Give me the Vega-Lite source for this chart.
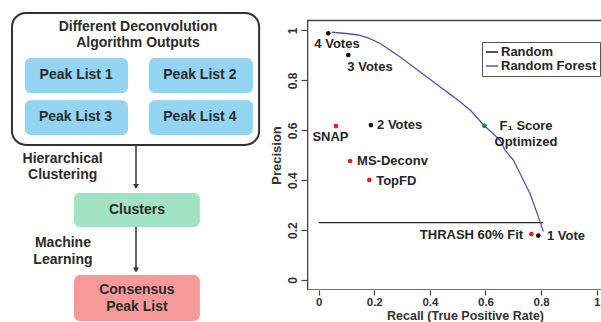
{
  "$schema": "https://vega.github.io/schema/vega-lite/v6.json",
  "padding": 0,
  "autosize": {"type": "pad"},
  "spacing": 0,
  "bounds": "flush",
  "background": "white",
  "config": {
    "view": {"stroke": null},
    "font": "Liberation Sans"
  },
  "resolve": {
    "scale": {"x": "independent", "y": "independent", "color": "independent", "fill": "independent", "stroke": "independent"},
    "legend": {"stroke": "independent", "color": "independent", "fill": "independent"}
  },
  "datasets": {
    "outer": [{"x": 3.9, "x2": 84.4, "y": 4.0, "y2": 45.0}],
    "boxes": [
      {"name": "Peak List 1", "kind": "input", "x": 8.1, "x2": 41.7, "y": 18.0, "y2": 28.9},
      {"name": "Peak List 2", "kind": "input", "x": 48.5, "x2": 82.4, "y": 18.0, "y2": 28.9},
      {"name": "Peak List 3", "kind": "input", "x": 8.1, "x2": 41.7, "y": 31.1, "y2": 41.9},
      {"name": "Peak List 4", "kind": "input", "x": 48.5, "x2": 82.4, "y": 31.1, "y2": 41.9},
      {"name": "Clusters", "kind": "cluster", "x": 24.1, "x2": 65.1, "y": 59.9, "y2": 70.5},
      {"name": "Consensus Peak List", "kind": "consensus", "x": 24.1, "x2": 65.1, "y": 85.4, "y2": 99.7}
    ],
    "arrows": [
      {"step": "Hierarchical Clustering", "x": 44.3, "y": 45.0, "y2": 58.0, "tip": 57.9},
      {"step": "Machine Learning", "x": 44.3, "y": 70.5, "y2": 84.0, "tip": 83.85}
    ],
    "diagramText": [
      {"text": "Different Deconvolution", "x": 44.95, "y": 8.39},
      {"text": "Algorithm  Outputs", "x": 44.95, "y": 13.35},
      {"text": "Peak List 1", "x": 24.8, "y": 23.35},
      {"text": "Peak List 2", "x": 65.1, "y": 23.35},
      {"text": "Peak List 3", "x": 24.6, "y": 36.3},
      {"text": "Peak List 4", "x": 65.1, "y": 36.3},
      {"text": "Hierarchical", "x": 20.4, "y": 49.4},
      {"text": "Clustering", "x": 20.4, "y": 54.3},
      {"text": "Clusters", "x": 44.6, "y": 65.2},
      {"text": "Machine", "x": 20.5, "y": 75.5},
      {"text": "Learning", "x": 20.5, "y": 80.7},
      {"text": "Consensus", "x": 44.6, "y": 90.1},
      {"text": "Peak List", "x": 44.6, "y": 95.3}
    ],
    "frame": [{"recall": -0.04, "recall2": 1.04, "precision": -0.04, "precision2": 1.04}],
    "curves": [
      {"series": "Random", "recall": 0.0, "precision": 0.23},
      {"series": "Random", "recall": 0.808, "precision": 0.23},
      {"series": "Random Forest", "recall": 0.047, "precision": 0.993},
      {"series": "Random Forest", "recall": 0.1, "precision": 0.988},
      {"series": "Random Forest", "recall": 0.142, "precision": 0.982},
      {"series": "Random Forest", "recall": 0.178, "precision": 0.97},
      {"series": "Random Forest", "recall": 0.22, "precision": 0.949},
      {"series": "Random Forest", "recall": 0.292, "precision": 0.895},
      {"series": "Random Forest", "recall": 0.388, "precision": 0.815},
      {"series": "Random Forest", "recall": 0.484, "precision": 0.735},
      {"series": "Random Forest", "recall": 0.544, "precision": 0.682},
      {"series": "Random Forest", "recall": 0.596, "precision": 0.618},
      {"series": "Random Forest", "recall": 0.652, "precision": 0.561},
      {"series": "Random Forest", "recall": 0.67, "precision": 0.521},
      {"series": "Random Forest", "recall": 0.7, "precision": 0.481},
      {"series": "Random Forest", "recall": 0.718, "precision": 0.441},
      {"series": "Random Forest", "recall": 0.76, "precision": 0.347},
      {"series": "Random Forest", "recall": 0.79, "precision": 0.254},
      {"series": "Random Forest", "recall": 0.808, "precision": 0.194}
    ],
    "methods": [
      {"label": "4 Votes", "kind": "vote", "recall": 0.0345, "precision": 0.9888, "lx": 0.0658, "ly": 0.9447},
      {"label": "3 Votes", "kind": "vote", "recall": 0.1065, "precision": 0.9018, "lx": 0.1845, "ly": 0.8537},
      {"label": "2 Votes", "kind": "vote", "recall": 0.188, "precision": 0.621, "lx": 0.2914, "ly": 0.6212},
      {"label": "1 Vote", "kind": "vote", "recall": 0.79, "precision": 0.178, "lx": 0.8896, "ly": 0.1776},
      {"label": "SNAP", "kind": "tool", "recall": 0.062, "precision": 0.617, "lx": 0.0424, "ly": 0.5743},
      {"label": "MS-Deconv", "kind": "tool", "recall": 0.113, "precision": 0.477, "lx": 0.2655, "ly": 0.477},
      {"label": "TopFD", "kind": "tool", "recall": 0.182, "precision": 0.401, "lx": 0.2791, "ly": 0.3968},
      {"label": "THRASH 60% Fit", "kind": "tool", "recall": 0.765, "precision": 0.184, "lx": 0.5496, "ly": 0.18},
      {"label": "F₁ Score\nOptimized", "kind": "f1", "recall": 0.596, "precision": 0.618, "lx": 0.7457, "ly": 0.617}
    ]
  },
  "hconcat": [
    {
      "width": 307,
      "height": 322,
      "layer": [
        {
          "data": {"name": "outer"},
          "mark": {"type": "rect", "cornerRadius": 14, "fill": "white", "stroke": "#333333", "strokeWidth": 2},
          "encoding": {
            "x": {"field": "x", "type": "quantitative", "scale": {"domain": [0, 100], "nice": false, "zero": false}, "axis": null},
            "x2": {"field": "x2"},
            "y": {"field": "y", "type": "quantitative", "scale": {"domain": [0, 100], "nice": false, "zero": false, "reverse": true}, "axis": null},
            "y2": {"field": "y2"}
          }
        },
        {
          "data": {"name": "boxes"},
          "mark": {"type": "rect", "cornerRadius": 6},
          "encoding": {
            "x": {"field": "x", "type": "quantitative", "scale": {"domain": [0, 100], "nice": false, "zero": false}, "axis": null},
            "x2": {"field": "x2"},
            "y": {"field": "y", "type": "quantitative", "scale": {"domain": [0, 100], "nice": false, "zero": false, "reverse": true}, "axis": null},
            "y2": {"field": "y2"},
            "fill": {"field": "kind", "type": "nominal", "scale": {"domain": ["input", "cluster", "consensus"], "range": ["#92d4f1", "#a0e2c3", "#f59a98"]}, "legend": null}
          }
        },
        {
          "data": {"name": "arrows"},
          "mark": {"type": "rule", "color": "#333333", "strokeWidth": 1.5},
          "encoding": {
            "x": {"field": "x", "type": "quantitative", "scale": {"domain": [0, 100], "nice": false, "zero": false}, "axis": null},
            "y": {"field": "y", "type": "quantitative", "scale": {"domain": [0, 100], "nice": false, "zero": false, "reverse": true}, "axis": null},
            "y2": {"field": "y2"}
          }
        },
        {
          "data": {"name": "arrows"},
          "mark": {"type": "point", "shape": "triangle-down", "filled": true, "color": "#333333", "size": 35, "opacity": 1},
          "encoding": {
            "x": {"field": "x", "type": "quantitative", "scale": {"domain": [0, 100], "nice": false, "zero": false}, "axis": null},
            "y": {"field": "tip", "type": "quantitative", "scale": {"domain": [0, 100], "nice": false, "zero": false, "reverse": true}, "axis": null}
          }
        },
        {
          "data": {"name": "diagramText"},
          "mark": {"type": "text", "font": "Liberation Sans", "fontWeight": "bold", "fontSize": 14, "color": "#2b2b2b", "align": "center", "baseline": "middle"},
          "encoding": {
            "x": {"field": "x", "type": "quantitative", "scale": {"domain": [0, 100], "nice": false, "zero": false}, "axis": null},
            "y": {"field": "y", "type": "quantitative", "scale": {"domain": [0, 100], "nice": false, "zero": false, "reverse": true}, "axis": null},
            "text": {"field": "text", "type": "nominal"}
          }
        }
      ]
    },
    {
      "width": 294,
      "height": 290,
      "layer": [
        {
          "data": {"name": "frame"},
          "mark": {"type": "rect", "clip": true, "fill": "white", "fillOpacity": 0, "stroke": "#444444", "strokeWidth": 1.5},
          "encoding": {
            "x": {
              "field": "recall", "type": "quantitative",
              "scale": {"domain": [-0.042, 1.0155], "nice": false, "zero": false},
              "axis": {
                "values": [0, 0.2, 0.4, 0.6, 0.8, 1], "format": "~g", "grid": false, "domain": false,
                "tickSize": 5, "tickColor": "#444444", "tickWidth": 1.2,
                "labelFont": "Liberation Sans", "labelFontSize": 11.5, "labelFontWeight": "bold", "labelColor": "#333333",
                "labelPadding": 1, "labelFlush": false, "labelOverlap": false,
                "title": "Recall (True Positive Rate)", "titleFont": "Liberation Sans", "titleFontSize": 12.5,
                "titleFontWeight": "bold", "titleColor": "#333333", "titlePadding": 1.5, "titleX": 158
              }
            },
            "x2": {"field": "recall2"},
            "y": {
              "field": "precision", "type": "quantitative",
              "scale": {"domain": [-0.0401, 1.1222], "nice": false, "zero": false},
              "axis": {
                "values": [0, 0.2, 0.4, 0.6, 0.8, 1], "format": "~g", "grid": false, "domain": false,
                "tickSize": 6, "tickColor": "#444444", "tickWidth": 1.2,
                "labelFont": "Liberation Sans", "labelFontSize": 12, "labelFontWeight": "bold", "labelColor": "#333333",
                "labelAngle": -90, "labelAlign": "center", "labelBaseline": "bottom", "labelPadding": 2, "labelOverlap": false,
                "title": "Precision", "titleFont": "Liberation Sans", "titleFontSize": 13,
                "titleFontWeight": "bold", "titleColor": "#333333", "titlePadding": 3, "titleY": 155
              }
            },
            "y2": {"field": "precision2"}
          }
        },
        {
          "data": {"name": "curves"},
          "mark": {"type": "line", "strokeWidth": 1.3},
          "encoding": {
            "x": {"field": "recall", "type": "quantitative", "scale": {"domain": [-0.042, 1.0155], "nice": false, "zero": false}, "title": "Recall (True Positive Rate)"},
            "y": {"field": "precision", "type": "quantitative", "scale": {"domain": [-0.0401, 1.1222], "nice": false, "zero": false}, "title": "Precision"},
            "stroke": {
              "field": "series", "type": "nominal",
              "scale": {"domain": ["Random", "Random Forest"], "range": ["#222222", "#5353b5"]},
              "legend": {
                "orient": "none", "legendX": 175, "legendY": 42, "title": null,
                "strokeColor": "#555555", "fillColor": "white", "padding": 3,
                "symbolType": "stroke", "symbolSize": 150, "symbolStrokeWidth": 1.5,
                "labelFont": "Liberation Sans", "labelFontSize": 13, "labelFontWeight": "bold", "labelColor": "#262626",
                "labelOffset": 2, "rowPadding": 0
              }
            }
          }
        },
        {
          "data": {"name": "methods"},
          "mark": {"type": "circle", "size": 22, "opacity": 1},
          "encoding": {
            "x": {"field": "recall", "type": "quantitative", "scale": {"domain": [-0.042, 1.0155], "nice": false, "zero": false}, "title": "Recall (True Positive Rate)"},
            "y": {"field": "precision", "type": "quantitative", "scale": {"domain": [-0.0401, 1.1222], "nice": false, "zero": false}, "title": "Precision"},
            "color": {"field": "kind", "type": "nominal", "scale": {"domain": ["vote", "tool", "f1"], "range": ["#111111", "#e2201c", "#1b8b30"]}, "legend": null}
          }
        },
        {
          "data": {"name": "methods"},
          "mark": {"type": "text", "font": "Liberation Sans", "fontWeight": "bold", "fontSize": 13, "color": "#262626", "align": "center", "baseline": "middle", "lineBreak": "\n", "lineHeight": 16},
          "encoding": {
            "x": {"field": "lx", "type": "quantitative", "scale": {"domain": [-0.042, 1.0155], "nice": false, "zero": false}, "title": "Recall (True Positive Rate)"},
            "y": {"field": "ly", "type": "quantitative", "scale": {"domain": [-0.0401, 1.1222], "nice": false, "zero": false}, "title": "Precision"},
            "text": {"field": "label", "type": "nominal"}
          }
        }
      ]
    }
  ]
}
